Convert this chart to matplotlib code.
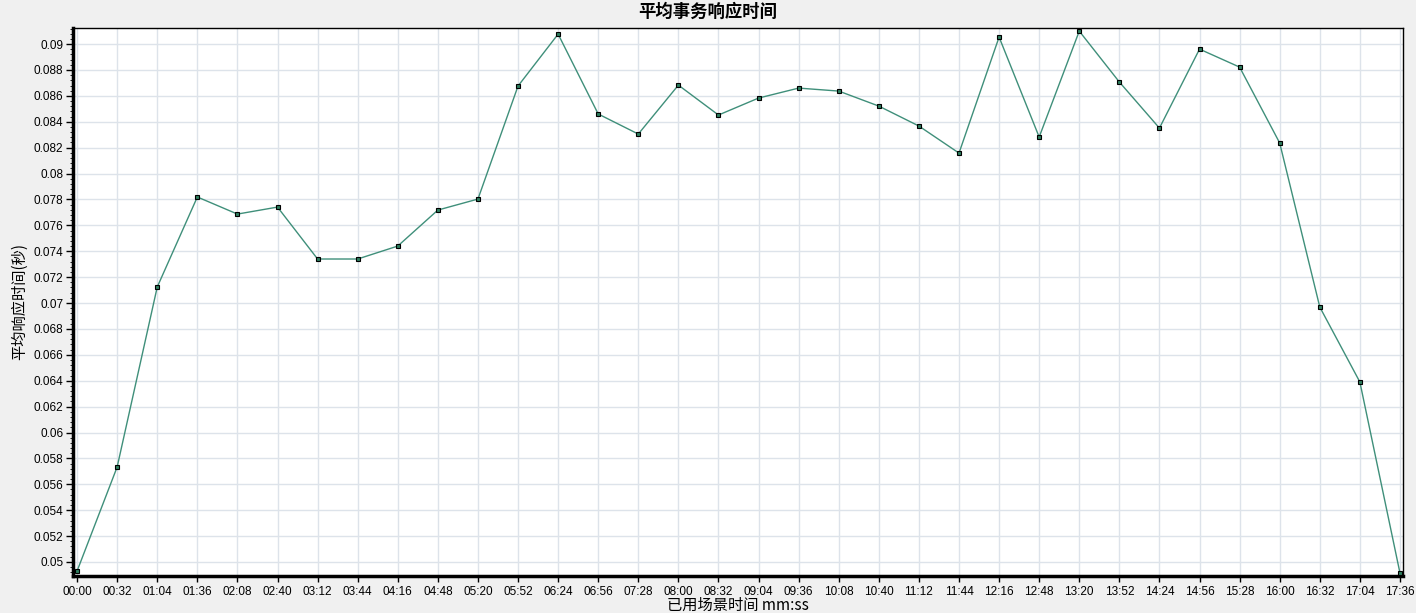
"""
Average transaction response time chart
"""

import matplotlib
matplotlib.use('Agg')
import matplotlib.pyplot as plt
from matplotlib.ticker import MultipleLocator, FuncFormatter

plt.rcParams['font.family'] = ['Liberation Sans', 'Noto Sans CJK SC', 'DejaVu Sans']

# elapsed time labels, one point every 32 s
tick_labels = ['00:00', '00:32', '01:04', '01:36', '02:08', '02:40', '03:12', '03:44',
               '04:16', '04:48', '05:20', '05:52', '06:24', '06:56', '07:28', '08:00',
               '08:32', '09:04', '09:36', '10:08', '10:40', '11:12', '11:44', '12:16',
               '12:48', '13:20', '13:52', '14:24', '14:56', '15:28', '16:00', '16:32',
               '17:04', '17:36']
elapsed_sec = [int(t[:2]) * 60 + int(t[3:]) for t in tick_labels]

resp_time = [0.04930, 0.05734, 0.07124, 0.07819, 0.07687, 0.07741, 0.07340, 0.07340,
             0.07440, 0.07718, 0.07803, 0.08676, 0.09077, 0.08460, 0.08305, 0.08683,
             0.08452, 0.08583, 0.08660, 0.08637, 0.08521, 0.08367, 0.08158, 0.09054,
             0.08282, 0.09100, 0.08707, 0.08351, 0.08961, 0.08822, 0.08236, 0.06969,
             0.06390, 0.04915]

CJK = ['Noto Sans CJK SC', 'DejaVu Sans']


def fmt_y(v, pos):
    return ('%.3f' % v).rstrip('0').rstrip('.')


def setup_fig():
    fig = plt.figure(figsize=[14.16, 6.13], dpi=100, facecolor='#f0f0f0')
    ax = fig.add_axes([0.0516, 0.0604, 0.9392, 0.8939])
    ax.set_facecolor('white')

    ax.set_xlim(-3.2, 1058.4)
    ax.set_ylim(0.04892, 0.09124)

    ax.set_xticks(elapsed_sec)
    ax.set_xticklabels(tick_labels)
    ax.yaxis.set_major_locator(MultipleLocator(0.002))
    ax.yaxis.set_minor_locator(MultipleLocator(0.0004))
    ax.yaxis.set_major_formatter(FuncFormatter(fmt_y))

    ax.tick_params(axis='both', labelsize=8.5, colors='black', width=1)
    ax.tick_params(axis='y', which='major', length=5, pad=2)
    ax.tick_params(axis='y', which='minor', length=2)
    ax.tick_params(axis='x', which='major', length=4, pad=3)

    ax.grid(True, which='major', color='#dde3ea', linewidth=1)
    ax.set_axisbelow(True)

    for side in ['top', 'right']:
        ax.spines[side].set_linewidth(1)
    for side in ['left', 'bottom']:
        ax.spines[side].set_linewidth(2.5)

    fig.suptitle('平均事务响应时间', x=0.5, y=0.995, fontsize=12.5, fontweight='bold',
                 va='top', family=CJK)
    ax.set_xlabel('已用场景时间 mm:ss', fontsize=11, labelpad=-1, family=CJK)
    ax.set_ylabel('平均响应时间(秒)', fontsize=11, labelpad=4, family=CJK)
    return fig, ax


def plot_series(ax):
    ax.plot(elapsed_sec, resp_time, color='#3f8f7a', linewidth=1, marker='s',
            markersize=3.5, markerfacecolor='#2e7d5e', markeredgecolor='black',
            markeredgewidth=0.8, clip_on=False, zorder=3)


if __name__ == "__main__":
    fig, ax = setup_fig()
    plot_series(ax)
    fig.savefig('out.png', dpi=100, facecolor=fig.get_facecolor())
